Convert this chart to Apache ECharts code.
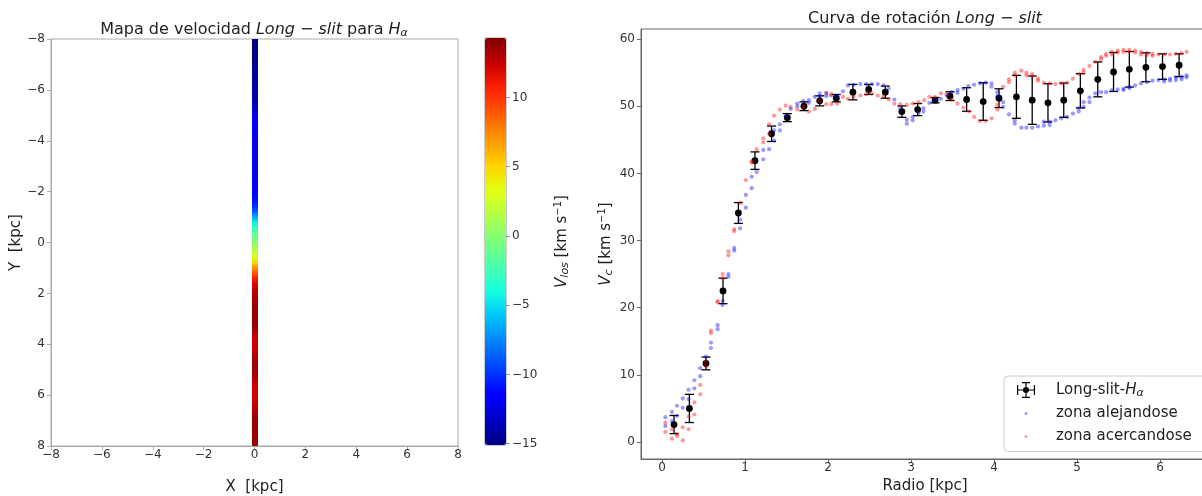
<!DOCTYPE html>
<html><head><meta charset="utf-8">
<script src="https://cdn.jsdelivr.net/npm/echarts@6/dist/echarts.min.js"></script>
<style>html,body{margin:0;padding:0;background:#fff}#c{width:1202px;height:496px}</style>
</head><body><div id="c"></div>
<script>
// ---- Left panel: velocity along the slit (cell centres in kpc, velocity in km/s)
const stripY = [-7.875,-7.625,-7.375,-7.125,-6.875,-6.625,-6.375,-6.125,-5.875,-5.625,-5.375,-5.125,-4.875,-4.625,-4.375,-4.125,
  -3.875,-3.625,-3.375,-3.125,-2.875,-2.625,-2.375,-2.125,-1.875,-1.625,-1.375,-1.125,-0.875,-0.625,-0.375,-0.125,
  0.125,0.375,0.625,0.875,1.125,1.375,1.625,1.875,2.125,2.375,2.625,2.875,3.125,3.375,3.625,3.875,
  4.125,4.375,4.625,4.875,5.125,5.375,5.625,5.875,6.125,6.375,6.625,6.875,7.125,7.375,7.625,7.875];
const stripV = [-15.0,-15.0,-14.9,-14.8,-14.6,-14.4,-14.3,-14.2,-14.1,-14.0,-13.6,-12.6,-11.8,-11.5,-11.7,-12.0,
  -12.1,-12.2,-12.2,-12.1,-12.0,-11.9,-11.8,-11.6,-11.3,-10.8,-9.8,-8.0,-5.0,-3.0,-1.6,-0.5,
  0.8,2.0,3.5,6.0,8.5,10.5,12.0,12.8,13.2,13.4,13.6,13.8,13.8,13.5,12.6,12.3,
  12.4,12.8,13.3,13.6,13.5,12.8,12.3,12.2,12.3,12.6,13.2,13.6,13.7,13.7,13.6,13.6];
const mapTicks = [-8,-6,-4,-2,0,2,4,6,8];
const colorbarTicks = [-15,-10,-5,0,5,10];

// ---- Right panel: rotation curve
const ebX = [0.145,0.33,0.53,0.735,0.92,1.12,1.32,1.51,1.71,1.90,2.10,2.30,2.49,2.69,2.89,3.08,
  3.29,3.47,3.67,3.87,4.06,4.27,4.46,4.65,4.84,5.04,5.25,5.44,5.63,5.83,6.03,6.23];
const ebY = [2.6,5.0,11.7,22.5,34.1,41.9,45.9,48.3,50.0,50.8,51.2,52.1,52.5,52.1,49.2,49.5,
  50.9,51.5,51.0,50.7,51.2,51.4,50.9,50.5,50.9,52.3,54.0,55.1,55.5,55.8,55.9,56.1];
const ebErr = [1.35,2.1,0.95,1.9,1.55,1.3,1.15,0.6,0.65,0.75,0.55,1.15,0.75,0.9,0.85,0.9,
  0.4,0.65,1.75,2.8,1.4,3.2,3.6,2.85,2.55,2.55,2.6,2.9,2.65,2.15,1.9,1.7];

const blueX = [0.04,0.04,0.12,0.12,0.18,0.18,0.25,0.25,0.32,0.32,0.39,0.39,0.46,0.46,0.53,0.59,0.59,0.67,0.67,0.73,0.73,
  0.80,0.80,0.87,0.87,0.94,0.94,1.01,1.01,1.08,1.08,1.14,1.22,1.22,1.29,1.35,1.35,1.42,1.42,1.49,1.55,1.63,1.63,1.70,
  1.77,1.77,1.84,1.90,1.90,1.98,1.98,2.04,2.11,2.18,2.24,2.31,2.39,2.46,2.53,2.60,2.67,2.73,2.80,2.87,2.95,2.95,
  3.02,3.02,3.09,3.15,3.15,3.22,3.29,3.36,3.43,3.49,3.56,3.56,3.63,3.69,3.76,3.83,3.90,3.97,3.97,4.04,4.04,4.11,4.11,
  4.18,4.25,4.25,4.33,4.39,4.46,4.53,4.60,4.60,4.67,4.67,4.74,4.81,4.88,4.95,5.02,5.02,5.08,5.08,5.15,5.15,5.22,5.29,
  5.35,5.42,5.49,5.56,5.56,5.63,5.63,5.70,5.77,5.84,5.91,5.98,6.05,6.05,6.12,6.12,6.19,6.19,6.26,6.26,6.32,6.32];
const blueY = [3.7,2.4,4.5,3.1,5.4,3.9,6.5,5.1,7.8,6.4,9.2,8.0,11.0,9.8,12.7,14.8,14.0,17.4,16.8,21.0,20.4,
  25.0,24.6,28.9,28.5,33.1,31.8,36.8,34.9,39.5,37.8,40.2,43.5,42.1,43.6,46.4,44.9,47.3,46.4,48.5,49.6,50.4,50.0,50.8,
  50.9,50.5,51.4,51.9,51.5,51.9,51.5,51.6,51.5,52.2,53.1,53.2,53.3,53.3,53.3,53.3,53.1,52.6,51.0,49.8,48.0,47.4,
  48.4,47.9,49.0,49.7,49.2,50.5,50.9,51.1,51.6,52.1,52.4,52.0,52.6,53.0,53.2,53.4,53.5,53.4,52.9,52.1,51.5,50.6,49.9,
  48.8,47.9,47.4,46.8,46.8,46.8,47.0,47.7,47.1,47.7,47.2,47.9,48.2,48.4,48.9,49.7,49.2,50.6,49.9,51.3,50.6,51.9,52.1,
  52.1,52.4,52.5,52.6,52.4,52.9,52.7,53.1,53.4,53.6,53.8,53.9,54.0,53.7,54.1,53.8,54.3,53.9,54.4,54.0,54.6,54.3];

const redX = [0.04,0.04,0.12,0.12,0.18,0.18,0.25,0.25,0.32,0.32,0.39,0.39,0.46,0.46,0.53,0.53,0.59,0.59,0.67,0.67,0.73,0.73,
  0.80,0.80,0.87,0.87,0.94,1.01,1.08,1.08,1.14,1.22,1.22,1.29,1.29,1.35,1.42,1.49,1.55,1.63,1.70,1.77,1.84,1.90,1.98,1.98,
  2.04,2.04,2.11,2.18,2.24,2.31,2.39,2.46,2.53,2.60,2.67,2.73,2.80,2.87,2.95,3.02,3.09,3.16,3.22,3.29,3.36,3.43,3.49,
  3.56,3.63,3.70,3.76,3.83,3.90,3.97,4.04,4.04,4.11,4.18,4.18,4.25,4.25,4.33,4.39,4.39,4.46,4.46,4.53,4.53,4.60,4.67,
  4.74,4.81,4.88,4.95,5.02,5.08,5.08,5.15,5.22,5.29,5.29,5.35,5.35,5.42,5.42,5.49,5.49,5.56,5.56,5.63,5.63,5.70,5.70,
  5.77,5.77,5.84,5.84,5.91,5.91,5.98,6.05,6.12,6.19,6.26,6.32];
const redY = [2.9,1.5,1.9,0.5,0.9,1.2,2.2,0.25,3.8,1.9,5.9,4.1,8.5,7.1,12.0,11.3,16.6,16.2,21.0,20.8,25.0,24.4,
  28.4,27.8,31.7,31.4,35.6,39.0,41.8,41.6,43.6,45.2,44.6,47.3,45.9,48.6,49.5,50.1,49.9,49.5,49.9,49.2,49.6,50.8,52.0,50.3,
  51.8,50.3,50.4,51.4,51.1,51.4,51.6,51.8,51.9,51.6,51.5,51.0,50.4,50.3,50.2,50.4,50.6,50.9,51.4,51.4,51.9,51.8,51.0,
  50.4,49.8,49.2,48.4,47.8,47.8,48.2,50.2,49.5,52.9,54.0,53.6,55.0,54.6,55.3,55.0,54.6,54.8,54.5,54.1,53.8,53.5,53.4,
  53.3,53.4,53.5,54.1,54.8,55.4,55.0,56.0,56.6,57.3,57.0,57.8,57.5,58.1,57.7,58.3,58.0,58.4,58.1,58.4,58.1,58.3,58.0,
  58.1,57.7,57.9,57.6,57.8,57.5,57.7,57.7,57.7,57.8,57.9,58.1];
const radioTicks = [0,1,2,3,4,5,6];
const vcTicks = [0,10,20,30,40,50,60];

// ---- styling constants
const FONT = 'DejaVu Sans';
const VMIN = -15.1, VMAX = 14.3;
const jet = ['#000080','#0000c8','#0000ff','#0040ff','#0080ff','#00bfff','#15ffe2','#48ffaf','#7bff7b',
  '#afff48','#e2ff15','#ffd200','#ff9700','#ff5c00','#ff2100','#c80000','#800000'];
const STRIP_X0 = -0.1, STRIP_X1 = 0.15, MAP_MIN = -8, MAP_MAX = 8;
const fmtMinus = v => String(v).replace('-', '\u2212');

function hex2rgb(h) { return [1, 3, 5].map(k => parseInt(h.substr(k, 2), 16)); }
const jetRgb = jet.map(hex2rgb);
function jetColor(v) {
  let t = (v - VMIN) / (VMAX - VMIN);
  t = Math.max(0, Math.min(1, t)) * (jetRgb.length - 1);
  const i = Math.min(jetRgb.length - 2, Math.floor(t)), f = t - i;
  const c = jetRgb[i].map((a, k) => Math.round(a + (jetRgb[i + 1][k] - a) * f));
  return 'rgb(' + c.join(',') + ')';
}

const corner = 'M0,0h0.01v0.01h-0.01zM41.99,15.99h0.01v0.01h-0.01z';
const ebIcon = 'path://' + corner +
  'M8,7.4h18v1.2h-18zM8,3h1.2v10h-1.2zM24.8,3h1.2v10h-1.2zM16.4,0h1.2v16h-1.2zM13,0h8v1.2h-8zM13,14.8h8v1.2h-8z' +
  'M14,8a3,3 0 1,1 6,0a3,3 0 1,1 -6,0z';
const dotIcon = 'path://' + corner + 'M15.4,8a1.6,1.6 0 1,1 3.2,0a1.6,1.6 0 1,1 -3.2,0z';

const subRich = {
  i: {fontStyle: 'italic', fontSize: 16, fontFamily: FONT, color: '#222'},
  n: {fontSize: 16, fontFamily: FONT, color: '#222'},
  s: {fontStyle: 'italic', fontSize: 11, fontFamily: FONT, color: '#222', padding: [7, 0, 0, 0]}
};
const nameRich = {
  i: {fontStyle: 'italic', fontSize: 15, fontFamily: FONT, color: '#222'},
  s: {fontStyle: 'italic', fontSize: 11, fontFamily: FONT, color: '#222', padding: [7, 0, 0, 0]},
  p: {fontSize: 10, fontFamily: FONT, color: '#222', padding: [0, 0, 7, 0]}
};

function axisCommon(color, margin) {
  return {
    axisLine: {show: true, onZero: false, lineStyle: {color: color, width: 1}},
    axisTick: {show: true, length: 4, lineStyle: {color: color}},
    axisLabel: {color: '#333', fontSize: 12, fontFamily: FONT, margin: margin, formatter: fmtMinus},
    splitLine: {show: false},
    nameLocation: 'middle',
    nameTextStyle: {fontSize: 15, fontFamily: FONT, color: '#222', rich: nameRich}
  };
}
function merge(a, b) {
  const o = Object.assign({}, a, b);
  ['axisLine','axisTick','axisLabel','nameTextStyle'].forEach(k => { if (a[k] && b[k]) o[k] = Object.assign({}, a[k], b[k]); });
  return o;
}

const chart = echarts.init(document.getElementById('c'), null, {renderer: 'canvas'});
const option = {
  animation: false,
  backgroundColor: '#fff',
  textStyle: {fontFamily: FONT},
  title: [
    {text: '{n|Mapa de velocidad }{i|Long}{n| \u2212 }{i|slit}{n| para }{i|H}{s|\u03b1}',
     left: 254, top: 21, textAlign: 'center', padding: 0,
     textStyle: {fontSize: 16, fontWeight: 'normal', color: '#222', rich: subRich}},
    {text: '{n|Curva de rotaci\u00f3n }{i|Long}{n| \u2212 }{i|slit}',
     left: 925, top: 11, textAlign: 'center', padding: 0,
     textStyle: {fontSize: 16, fontWeight: 'normal', color: '#222', rich: subRich}}
  ],
  grid: [
    {left: 51, top: 39, width: 407, height: 407, show: true, borderColor: '#aaa', borderWidth: 1,
     backgroundColor: 'transparent', outerBoundsMode: 'none', containLabel: false},
    {left: 641, top: 29, right: -7, height: 430, show: true, borderColor: '#666', borderWidth: 1,
     backgroundColor: 'transparent', outerBoundsMode: 'none', containLabel: false},
    {left: 485, top: 38, width: 21, height: 407, show: true, borderColor: '#999', borderWidth: 1,
     backgroundColor: 'transparent', outerBoundsMode: 'none', containLabel: false}
  ],
  xAxis: [
    merge(axisCommon('#aaa', 3), {gridIndex: 0, type: 'value', min: -8, max: 8, interval: 2,
      name: 'X  [kpc]', nameGap: 34}),
    merge(axisCommon('#666', 3), {gridIndex: 1, type: 'value', min: -0.253, max: 6.59,
      axisLabel: {customValues: radioTicks}, axisTick: {customValues: radioTicks},
      name: 'Radio [kpc]', nameGap: 20}),
    {gridIndex: 2, type: 'value', show: false, min: 0, max: 1}
  ],
  yAxis: [
    merge(axisCommon('#aaa', 6), {gridIndex: 0, type: 'value', inverse: true, min: -8, max: 8, interval: 2,
      name: 'Y  [kpc]', nameGap: 25}),
    merge(axisCommon('#666', 6), {gridIndex: 1, type: 'value', min: -2.53, max: 61.5,
      axisLabel: {customValues: vcTicks}, axisTick: {customValues: vcTicks},
      name: '{i|V}{s|c} [km s{p|\u22121}]', nameGap: 26}),
    merge(axisCommon('#999', 6), {gridIndex: 2, type: 'value', position: 'right', min: VMIN, max: VMAX,
      axisLine: {show: false, onZero: false},
      axisLabel: {customValues: colorbarTicks}, axisTick: {customValues: colorbarTicks},
      name: '{i|V}{s|los} [km s{p|\u22121}]', nameGap: 47})
  ],
  visualMap: {
    type: 'continuous', seriesIndex: 0, dimension: 1, min: VMIN, max: VMAX,
    left: 485, top: 38, itemWidth: 21, itemHeight: 407, padding: 0,
    calculable: false, hoverLink: false, inRange: {color: jet}, z: 1
  },
  legend: {
    orient: 'vertical', left: 1004, top: 376, padding: [6, 40, 7, 5],
    itemWidth: 42, itemHeight: 16, itemGap: 7,
    borderColor: '#ccc', borderWidth: 1, borderRadius: 4, backgroundColor: 'rgba(255,255,255,0.8)',
    selectedMode: false,
    textStyle: {fontSize: 15, fontFamily: FONT, color: '#222', rich: {
      n: {fontSize: 15, fontFamily: FONT, color: '#222'},
      i: {fontSize: 15, fontFamily: FONT, fontStyle: 'italic', color: '#222'},
      s: {fontSize: 11, fontFamily: FONT, fontStyle: 'italic', color: '#222', padding: [6, 0, 0, 0]}
    }},
    formatter: name => name === 'Long-slit-H\u03b1' ? '{n|Long-slit-}{i|H}{s|\u03b1}' : name,
    data: [
      {name: 'Long-slit-H\u03b1', icon: ebIcon},
      {name: 'zona alejandose', icon: dotIcon},
      {name: 'zona acercandose', icon: dotIcon}
    ]
  },
  series: [
    {
      type: 'custom', name: 'mapa', xAxisIndex: 0, yAxisIndex: 0,
      data: stripY.map((y, i) => [y, stripV[i]]),
      encode: {y: 0},
      renderItem: function (params, api) {
        const i = params.dataIndex, n = stripY.length;
        const yc = api.value(0), vc = api.value(1);
        const children = [];
        // interpolated band from this cell centre to the next one (pixel-aligned, no seams)
        const yNext = i < n - 1 ? stripY[i + 1] : MAP_MAX;
        const vNext = i < n - 1 ? stripV[i + 1] : vc;
        const a = api.coord([STRIP_X0, yc]), b = api.coord([STRIP_X1, yNext]);
        const top = Math.floor(Math.min(a[1], b[1])), bot = Math.ceil(Math.max(a[1], b[1]));
        const left = Math.round(a[0]), right = Math.round(b[0]);
        children.push({type: 'rect',
          shape: {x: left, y: top, width: right - left, height: bot - top + (i < n - 1 ? 1 : 0)},
          style: {fill: new echarts.graphic.LinearGradient(0, 0, 0, 1, [
            {offset: 0, color: jetColor(vc)}, {offset: 1, color: jetColor(vNext)}])}});
        if (i === 0) {
          const c = api.coord([STRIP_X0, MAP_MIN]);
          const ct = Math.round(c[1]);
          children.push({type: 'rect',
            shape: {x: left, y: ct, width: right - left, height: top - ct + 1},
            style: {fill: jetColor(vc)}});
        }
        return {type: 'group', children: children};
      }
    },
    {
      type: 'custom', name: 'Long-slit-H\u03b1', xAxisIndex: 1, yAxisIndex: 1,
      data: ebX.map((x, i) => [x, ebY[i], ebErr[i]]),
      encode: {x: 0, y: 1},
      itemStyle: {color: '#000'},
      renderItem: function (params, api) {
        const x = api.value(0), y = api.value(1), e = api.value(2);
        const t = api.coord([x, y + e]), b = api.coord([x, y - e]), c = api.coord([x, y]);
        const cw = 4.5, st = {stroke: '#000', lineWidth: 1.3};
        return {type: 'group', children: [
          {type: 'line', shape: {x1: t[0], y1: t[1], x2: b[0], y2: b[1]}, style: st},
          {type: 'line', shape: {x1: t[0] - cw, y1: t[1], x2: t[0] + cw, y2: t[1]}, style: st},
          {type: 'line', shape: {x1: b[0] - cw, y1: b[1], x2: b[0] + cw, y2: b[1]}, style: st},
          {type: 'circle', shape: {cx: c[0], cy: c[1], r: 3.4}, style: {fill: '#000'}}
        ]};
      }
    },
    {
      type: 'scatter', name: 'zona alejandose', xAxisIndex: 1, yAxisIndex: 1,
      data: blueX.map((x, i) => [x, blueY[i]]),
      symbolSize: 4.2, itemStyle: {color: 'rgba(0,0,255,0.5)'}
    },
    {
      type: 'scatter', name: 'zona acercandose', xAxisIndex: 1, yAxisIndex: 1,
      data: redX.map((x, i) => [x, redY[i]]),
      symbolSize: 4.2, itemStyle: {color: 'rgba(255,0,0,0.5)'}
    }
  ]
};
chart.setOption(option);
</script></body></html>
